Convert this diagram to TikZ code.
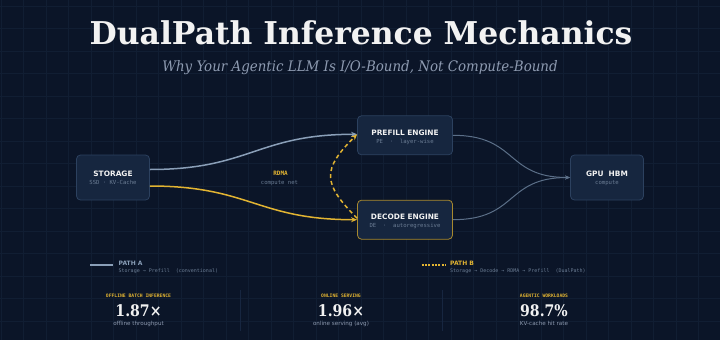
\documentclass[tikz,border=0pt]{standalone}
\usepackage{fontspec}
\setmainfont{DejaVu Serif}
\setsansfont{DejaVu Sans}
\setmonofont{DejaVu Sans Mono}
\newfontfamily\condserif[FakeStretch=0.88]{DejaVu Serif}
\newfontfamily\subserif[FakeStretch=0.925]{DejaVu Serif}
\usetikzlibrary{arrows.meta}

\definecolor{bgc}{HTML}{0B1528}
\definecolor{gridc}{HTML}{111E33}
\definecolor{nodefill}{HTML}{16263F}
\definecolor{nodeline}{HTML}{2C415F}
\definecolor{goldc}{HTML}{E2B432}
\definecolor{golddim}{HTML}{A8892E}
\definecolor{pathac}{HTML}{8A9FB8}
\definecolor{linkc}{HTML}{5B6F88}
\definecolor{subc}{HTML}{8D9AB0}
\definecolor{dimtext}{HTML}{6B7D94}
\definecolor{titlec}{HTML}{F2F2F2}
\definecolor{sepc}{HTML}{172640}

\begin{document}
\begin{tikzpicture}[x=1pt,y=-1pt,
  gridline/.style={draw=gridc, line width=0.5pt},
  boxside/.style={draw=nodeline, fill=nodefill, rounded corners=4pt, line width=0.8pt,
    inner sep=0pt, minimum width=73pt, minimum height=45pt},
  boxeng/.style={draw=nodeline, fill=nodefill, rounded corners=4pt, line width=0.8pt,
    inner sep=0pt, minimum width=95pt, minimum height=39pt},
  nodetitle/.style={anchor=base, inner sep=0pt, text=titlec,
    font=\sffamily\bfseries\fontsize{7.4}{8}\selectfont},
  nodesub/.style={anchor=base, inner sep=0pt, text=dimtext,
    font=\ttfamily\fontsize{5.6}{6}\selectfont},
  pathA/.style={draw=pathac, line width=1.5pt, -{Stealth[length=6pt,width=5pt]}},
  pathB/.style={draw=goldc, line width=1.5pt, -{Stealth[length=6pt,width=5pt]}},
  rdmalink/.style={draw=goldc, line width=1.5pt, dash pattern=on 4pt off 3pt,
    -{Stealth[length=6pt,width=5pt]}},
  gpulink/.style={draw=linkc, line width=1pt, -{Stealth[length=5pt,width=4pt]}},
  legtitle/.style={anchor=base west, inner sep=0pt, font=\sffamily\bfseries\fontsize{6}{7}\selectfont},
  legsub/.style={anchor=base west, inner sep=0pt, text=dimtext, font=\ttfamily\fontsize{5}{6}\selectfont},
  statlabel/.style={anchor=base, inner sep=0pt, text=goldc, font=\ttfamily\bfseries\fontsize{4.7}{5}\selectfont},
  statvalue/.style={anchor=base, inner sep=0pt, text=titlec, font=\condserif\bfseries\fontsize{16}{18}\selectfont},
  statsub/.style={anchor=base, inner sep=0pt, text=subc, font=\sffamily\fontsize{5.6}{6}\selectfont},
  sepline/.style={draw=sepc, line width=0.6pt}
]
\useasboundingbox (0,0) rectangle (720,340);
\fill[bgc] (0,0) rectangle (720,340);

% grid
\foreach \i in {0,...,31} \draw[gridline] ({0.8+22.5*\i},0) -- ({0.8+22.5*\i},340);
\foreach \j in {0,...,15} \draw[gridline] (0,{5.8+22.5*\j}) -- (720,{5.8+22.5*\j});

% title
\node[anchor=base, inner sep=0pt, text=titlec, font=\bfseries\fontsize{31.4}{36}\selectfont]
  (title) at (361,44.3) {DualPath Inference Mechanics};
\node[anchor=base, inner sep=0pt, text=subc, font=\subserif\itshape\fontsize{14.5}{17}\selectfont]
  (subtitle) at (360,71.7) {Why Your Agentic LLM Is I/O-Bound, Not Compute-Bound};

% boxes
\node[boxside] (storage) at (113,177.5) {};
\node[boxeng] (prefill) at (405,135.3) {};
\node[boxeng, draw=golddim] (decode) at (405,219.7) {};
\node[boxside] (gpu) at (607,177.5) {};

\node[nodetitle] (storageT) at ([yshift=1.2pt]storage.center) {STORAGE};
\node[nodesub] (storageS) at ([yshift=-7.2pt]storage.center) {SSD · KV-Cache};
\node[nodetitle] (prefillT) at ([yshift=0.3pt]prefill.center) {PREFILL ENGINE};
\node[nodesub] (prefillS) at ([yshift=-8pt]prefill.center) {PE\ \ ·\ \ layer-wise};
\node[nodetitle] (decodeT) at ([yshift=0.3pt]decode.center) {DECODE ENGINE};
\node[nodesub] (decodeS) at ([yshift=-8pt]decode.center) {DE\ \ ·\ \ autoregressive};
\node[nodetitle] (gpuT) at ([yshift=1.2pt]gpu.center) {GPU\ \ HBM};
\node[nodesub] (gpuS) at ([yshift=-7.2pt]gpu.center) {compute};

% connectors
\draw[gpulink] (prefill.east) .. controls +(65,0) and +(-65,0) .. (gpu.west);
\draw[gpulink] (decode.east) .. controls +(65,0) and +(-65,0) .. (gpu.west);
\draw[pathA] ([yshift=8pt]storage.east) .. controls +(100,0) and +(-100,0) .. ([yshift=1pt]prefill.west);
\draw[pathB] ([yshift=-8.5pt]storage.east) .. controls +(100,0) and +(-100,0) .. (decode.west);
\draw[rdmalink] ([yshift=1.5pt]decode.west) .. controls +(-35,-35) and +(-35,35) .. ([yshift=1pt]prefill.west);

% RDMA label
\node[anchor=base, inner sep=0pt, text=goldc, font=\ttfamily\bfseries\fontsize{6}{7}\selectfont]
  (rdma) at (280.5,175.3) {RDMA};
\node[anchor=base, inner sep=0pt, text=dimtext, font=\ttfamily\fontsize{5.6}{6}\selectfont]
  (rdmasub) at (279.5,184) {compute net};

% legend
\coordinate (la1) at (90,264.7);
\coordinate (la2) at (113.3,264.7);
\draw[draw=pathac, line width=2pt] (la1) -- (la2);
\node[legtitle, text=pathac] (legA) at (118.5,265.3) {PATH A};
\node[legsub] (legAs) at (118.5,272.3) {Storage → Prefill\ \ (conventional)};

\coordinate (lb1) at (421.7,264.7);
\coordinate (lb2) at (445,264.7);
\draw[draw=goldc, line width=2pt, dash pattern=on 2pt off 1.3pt] (lb1) -- (lb2);
\node[legtitle, text=goldc] (legB) at (450,265.3) {PATH B};
\node[legsub] (legBs) at (450,272.3) {Storage → Decode → RDMA → Prefill\ \ (DualPath)};

% stats
\node[statlabel] (s1l) at (138.5,297) {OFFLINE BATCH INFERENCE};
\node[statvalue] (s1v) at (138.5,316.7) {1.87×};
\node[statsub] (s1s) at (138.5,325.7) {offline throughput};

\node[statlabel] (s2l) at (341,297) {ONLINE SERVING};
\node[statvalue] (s2v) at (341,316.7) {1.96×};
\node[statsub] (s2s) at (341,325.7) {online serving (avg)};

\node[statlabel] (s3l) at (544,297) {AGENTIC WORKLOADS};
\node[statvalue] (s3v) at (544,316.7) {98.7\%};
\node[statsub] (s3s) at (544,325.7) {KV-cache hit rate};

\coordinate (sep1a) at (240,290);
\coordinate (sep1b) at (240,331);
\coordinate (sep2a) at (442.7,290);
\coordinate (sep2b) at (442.7,331);
\draw[sepline] (sep1a) -- (sep1b);
\draw[sepline] (sep2a) -- (sep2b);
\end{tikzpicture}
\end{document}
